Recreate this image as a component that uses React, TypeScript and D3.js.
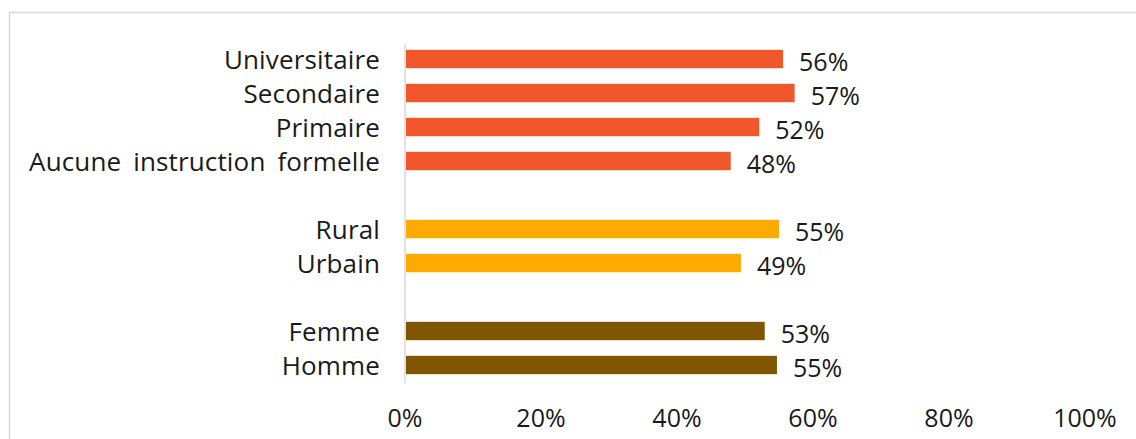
import React from "react";
import * as d3 from "d3";

const categories = [
  "Universitaire",
  "Secondaire",
  "Primaire",
  "Aucune instruction formelle",
  "",
  "Rural",
  "Urbain",
  " ",
  "Femme",
  "Homme",
];
const values = [55.6, 57.3, 52.1, 47.9, null, 55.0, 49.4, null, 52.9, 54.7];
const groups = ["edu", "edu", "edu", "edu", null, "milieu", "milieu", null, "sexe", "sexe"];
const groupColors: Record<string, string> = {
  edu: "#F2572B",
  milieu: "#FFAA00",
  sexe: "#7F5500",
};
const ticks = [0, 20, 40, 60, 80, 100];

const W = 1136;
const H = 439;
const FONT = "'Open Sans', 'DejaVu Sans', sans-serif";
const FS = 25;

export default function App() {
  const x = d3.scaleLinear().domain([0, 100]).range([405, 1085]);
  const y = d3.scaleBand<string>().domain(categories).range([42, 382]).paddingInner(0.46).paddingOuter(0.23);
  const bw = y.bandwidth();

  return (
    <svg
      width={W}
      height={H}
      style={{ position: "absolute", left: 0, top: 0, display: "block", background: "#fff" }}
      fontFamily={FONT}
    >
      <rect x={9.5} y={12.5} width={W + 20} height={H + 20} fill="#fff" stroke="#d9d9d9" strokeWidth={1.5} />
      <line x1={x(0)} x2={x(0)} y1={44} y2={383} stroke="#d9d9d9" strokeWidth={1.5} />
      {categories.map((c, i) => {
        const v = values[i];
        if (v == null) return null;
        const yc = (y(c) as number) + bw / 2;
        return (
          <g key={c}>
            <rect
              x={x(0) + 1}
              y={y(c)}
              width={x(v) - x(0) - 1}
              height={bw}
              fill={groupColors[groups[i] as string]}
            />
            <text x={x(0) - 25} y={yc + 10} textAnchor="end" fontSize={26} wordSpacing={5} letterSpacing={0.15} fill="#1a1a1a">
              {c}
            </text>
            <text x={x(v) + 16} y={yc + 12} textAnchor="start" fontSize={FS} fill="#1a1a1a">
              {d3.format(".0f")(v) + "%"}
            </text>
          </g>
        );
      })}
      {ticks.map((t) => (
        <text key={t} x={x(t)} y={427} textAnchor="middle" fontSize={FS} fill="#1a1a1a">
          {t + "%"}
        </text>
      ))}
    </svg>
  );
}
